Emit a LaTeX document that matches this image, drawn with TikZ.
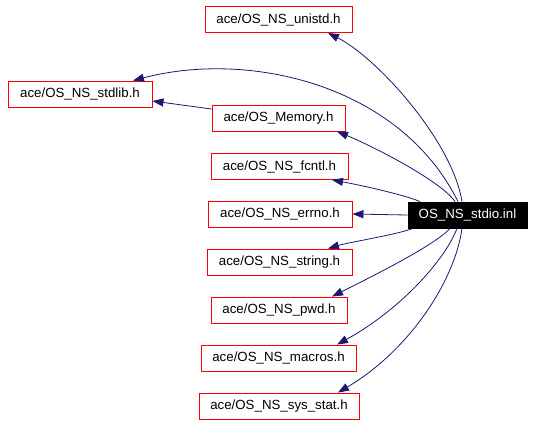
\documentclass[tikz,border=0pt]{standalone}
\usepackage{fontspec}
\setmainfont{Liberation Sans}
\usetikzlibrary{arrows.meta,calc}
\definecolor{edgeblue}{RGB}{25,25,112}
\begin{document}
\begin{tikzpicture}[x=1pt,y=-1pt,
  box/.style={draw=red, line width=0.9pt, fill=white, inner sep=0pt,
    minimum height=26pt, font=\fontsize{13.3}{15}\selectfont, text=black},
  mainbox/.style={draw=black, fill=black, line width=0.9pt, inner sep=0pt,
    minimum height=26pt, font=\fontsize{13.3}{15}\selectfont, text=white},
  edge/.style={draw=edgeblue, line width=0.8pt, -{Triangle[length=11pt,width=8pt,fill=edgeblue]}}]
\useasboundingbox (0,0) rectangle (533,424);
\node[box, minimum width=147pt] (unistd) at (278.5,19.5) {ace/OS\_NS\_unistd.h};
\node[box, minimum width=144pt] (stdlib) at (80,94) {ace/OS\_NS\_stdlib.h};
\node[box, minimum width=133pt] (memory) at (278.5,118) {ace/OS\_Memory.h};
\node[box, minimum width=137pt] (fcntl) at (279.5,166.5) {ace/OS\_NS\_fcntl.h};
\node[box, minimum width=144pt] (errno) at (280,214) {ace/OS\_NS\_errno.h};
\node[box, minimum width=145pt] (string) at (279.5,262) {ace/OS\_NS\_string.h};
\node[box, minimum width=136pt] (pwd) at (279,310) {ace/OS\_NS\_pwd.h};
\node[box, minimum width=155pt] (macros) at (278.5,358) {ace/OS\_NS\_macros.h};
\node[box, minimum width=160pt] (sysstat) at (279,406) {ace/OS\_NS\_sys\_stat.h};
\node[mainbox, minimum width=119pt] (stdio) at (467.5,215) {OS\_NS\_stdio.inl};

\draw[edge] ($(stdio.north)+(-5.5,0)$) .. controls (452,140) and (376,57) .. ($(unistd.south)+(49.5,0)$);
\draw[edge] ($(stdio.north)+(-9.5,0)$) .. controls (400,85) and (250,50) .. ($(stdlib.north)+(53,0)$);
\draw[edge] ($(memory.west)+(0,-9)$) -- ($(stdlib.east)+(0,7)$);
\draw[edge] ($(stdio.north)+(-12.5,0)$) .. controls (440,180) and (370,145) .. ($(memory.south)+(58.5,0)$);
\draw[edge] ($(stdio.north)+(-47.5,0)$) .. controls (405,195) and (360,185) .. ($(fcntl.south)+(52.5,0)$);
\draw[edge] (stdio.west) -- (errno.east);
\draw[edge] ($(stdio.south)+(-54.5,0)$) .. controls (395,235) and (350,242) .. ($(string.north)+(48.5,0)$);
\draw[edge] ($(stdio.south)+(-17.5,0)$) .. controls (435,245) and (375,275) .. ($(pwd.north)+(53,0)$);
\draw[edge] ($(stdio.south)+(-10.5,0)$) .. controls (445,260) and (400,310) .. ($(macros.north)+(58.5,0)$);
\draw[edge] ($(stdio.south)+(-5.5,0)$) .. controls (455,280) and (410,350) .. ($(sysstat.north)+(59,0)$);
\end{tikzpicture}
\end{document}
